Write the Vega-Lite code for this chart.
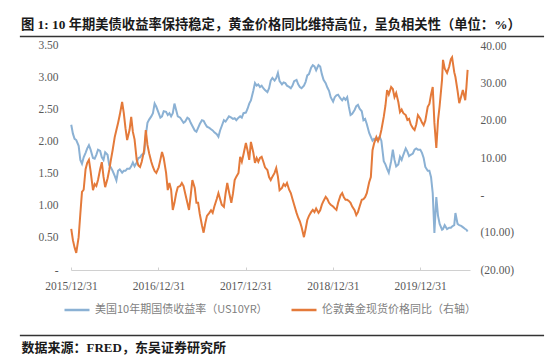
{
  "$schema": "https://vega.github.io/schema/vega-lite/v6.json",
  "width": 399,
  "height": 233.5,
  "autosize": {"type": "none"},
  "padding": {"left": 71, "top": 36.5, "right": 83, "bottom": 88},
  "background": "white",
  "config": {"view": {"stroke": null}},
  "title": {
    "text": "图 1: 10 年期美债收益率保持稳定，黄金价格同比维持高位，呈负相关性（单位：%）",
    "anchor": "start",
    "frame": "group",
    "dx": -50,
    "offset": 4,
    "font": "Liberation Serif, Noto Sans CJK SC",
    "fontSize": 13.3,
    "fontWeight": "bold",
    "color": "#1a1a1a"
  },
  "data": {"values": [
    {"date":"2016-01-01","us":2.27,"gold":-9.0},
    {"date":"2016-01-08","us":2.13,"gold":-12.0},
    {"date":"2016-01-15","us":2.05,"gold":-14.0},
    {"date":"2016-01-22","us":2.03,"gold":-15.4},
    {"date":"2016-02-01","us":1.94,"gold":-11.2},
    {"date":"2016-02-08","us":1.72,"gold":-5.0},
    {"date":"2016-02-15","us":1.66,"gold":0.9},
    {"date":"2016-02-22","us":1.76,"gold":1.5},
    {"date":"2016-03-01","us":1.83,"gold":7.0},
    {"date":"2016-03-08","us":1.90,"gold":8.7},
    {"date":"2016-03-15","us":1.95,"gold":9.5},
    {"date":"2016-03-22","us":1.88,"gold":6.5},
    {"date":"2016-04-01","us":1.75,"gold":1.4},
    {"date":"2016-04-08","us":1.74,"gold":3.0},
    {"date":"2016-04-15","us":1.80,"gold":2.5},
    {"date":"2016-04-22","us":1.88,"gold":4.1},
    {"date":"2016-05-01","us":1.86,"gold":7.0},
    {"date":"2016-05-08","us":1.76,"gold":8.9},
    {"date":"2016-05-15","us":1.72,"gold":5.0},
    {"date":"2016-05-22","us":1.84,"gold":2.2},
    {"date":"2016-06-01","us":1.80,"gold":4.5},
    {"date":"2016-06-08","us":1.64,"gold":6.8},
    {"date":"2016-06-15","us":1.60,"gold":9.5},
    {"date":"2016-06-22","us":1.55,"gold":12.0},
    {"date":"2016-07-01","us":1.47,"gold":15.6},
    {"date":"2016-07-08","us":1.40,"gold":17.5},
    {"date":"2016-07-15","us":1.55,"gold":19.4},
    {"date":"2016-07-22","us":1.57,"gold":21.5},
    {"date":"2016-08-01","us":1.52,"gold":25.0},
    {"date":"2016-08-08","us":1.55,"gold":22.0},
    {"date":"2016-08-15","us":1.55,"gold":18.0},
    {"date":"2016-08-22","us":1.58,"gold":14.8},
    {"date":"2016-09-01","us":1.58,"gold":17.5},
    {"date":"2016-09-08","us":1.62,"gold":21.0},
    {"date":"2016-09-15","us":1.68,"gold":17.0},
    {"date":"2016-09-22","us":1.62,"gold":15.0},
    {"date":"2016-10-01","us":1.68,"gold":9.5},
    {"date":"2016-10-08","us":1.75,"gold":8.0},
    {"date":"2016-10-15","us":1.76,"gold":7.6},
    {"date":"2016-10-22","us":1.80,"gold":9.0},
    {"date":"2016-11-01","us":1.82,"gold":12.0},
    {"date":"2016-11-08","us":2.10,"gold":17.5},
    {"date":"2016-11-15","us":2.30,"gold":13.5},
    {"date":"2016-11-22","us":2.35,"gold":11.3},
    {"date":"2016-12-01","us":2.40,"gold":9.0},
    {"date":"2016-12-08","us":2.45,"gold":7.6},
    {"date":"2016-12-15","us":2.60,"gold":6.5},
    {"date":"2016-12-22","us":2.55,"gold":6.0},
    {"date":"2017-01-01","us":2.45,"gold":7.5},
    {"date":"2017-01-08","us":2.38,"gold":9.5},
    {"date":"2017-01-15","us":2.40,"gold":11.6},
    {"date":"2017-01-22","us":2.48,"gold":10.0},
    {"date":"2017-02-01","us":2.47,"gold":6.0},
    {"date":"2017-02-08","us":2.42,"gold":1.4},
    {"date":"2017-02-15","us":2.45,"gold":3.3},
    {"date":"2017-02-22","us":2.40,"gold":1.5},
    {"date":"2017-03-01","us":2.45,"gold":-3.9},
    {"date":"2017-03-08","us":2.60,"gold":-2.0},
    {"date":"2017-03-15","us":2.50,"gold":0.5},
    {"date":"2017-03-22","us":2.40,"gold":2.2},
    {"date":"2017-04-01","us":2.38,"gold":2.5},
    {"date":"2017-04-08","us":2.34,"gold":3.3},
    {"date":"2017-04-15","us":2.30,"gold":2.5},
    {"date":"2017-04-22","us":2.32,"gold":0.5},
    {"date":"2017-05-01","us":2.38,"gold":-2.0},
    {"date":"2017-05-08","us":2.36,"gold":-3.9},
    {"date":"2017-05-15","us":2.30,"gold":0.0},
    {"date":"2017-05-22","us":2.25,"gold":4.1},
    {"date":"2017-06-01","us":2.18,"gold":2.0},
    {"date":"2017-06-08","us":2.16,"gold":-2.0},
    {"date":"2017-06-15","us":2.22,"gold":-2.0},
    {"date":"2017-06-22","us":2.28,"gold":-5.0},
    {"date":"2017-07-01","us":2.34,"gold":-8.0},
    {"date":"2017-07-08","us":2.33,"gold":-10.0},
    {"date":"2017-07-15","us":2.28,"gold":-7.5},
    {"date":"2017-07-22","us":2.24,"gold":-5.5},
    {"date":"2017-08-01","us":2.22,"gold":-4.7},
    {"date":"2017-08-08","us":2.20,"gold":-4.0},
    {"date":"2017-08-15","us":2.18,"gold":-4.7},
    {"date":"2017-08-22","us":2.15,"gold":-3.0},
    {"date":"2017-09-01","us":2.12,"gold":-1.0},
    {"date":"2017-09-08","us":2.08,"gold":0.6},
    {"date":"2017-09-15","us":2.18,"gold":-1.0},
    {"date":"2017-09-22","us":2.25,"gold":-2.5},
    {"date":"2017-10-01","us":2.34,"gold":-3.1},
    {"date":"2017-10-08","us":2.32,"gold":0.5},
    {"date":"2017-10-15","us":2.36,"gold":3.3},
    {"date":"2017-10-22","us":2.40,"gold":1.0},
    {"date":"2017-11-01","us":2.38,"gold":-2.0},
    {"date":"2017-11-08","us":2.36,"gold":0.5},
    {"date":"2017-11-15","us":2.37,"gold":4.1},
    {"date":"2017-11-22","us":2.34,"gold":5.0},
    {"date":"2017-12-01","us":2.38,"gold":6.0},
    {"date":"2017-12-08","us":2.40,"gold":10.3},
    {"date":"2017-12-15","us":2.38,"gold":9.0},
    {"date":"2017-12-22","us":2.45,"gold":11.0},
    {"date":"2018-01-01","us":2.46,"gold":14.0},
    {"date":"2018-01-08","us":2.52,"gold":12.0},
    {"date":"2018-01-15","us":2.60,"gold":9.5},
    {"date":"2018-01-22","us":2.65,"gold":14.3},
    {"date":"2018-02-01","us":2.80,"gold":11.5},
    {"date":"2018-02-08","us":2.92,"gold":8.7},
    {"date":"2018-02-15","us":2.88,"gold":10.0},
    {"date":"2018-02-22","us":2.90,"gold":9.0},
    {"date":"2018-03-01","us":2.86,"gold":10.0},
    {"date":"2018-03-08","us":2.88,"gold":10.3},
    {"date":"2018-03-15","us":2.84,"gold":9.0},
    {"date":"2018-03-22","us":2.81,"gold":7.5},
    {"date":"2018-04-01","us":2.78,"gold":6.8},
    {"date":"2018-04-08","us":2.84,"gold":4.9},
    {"date":"2018-04-15","us":2.96,"gold":4.1},
    {"date":"2018-04-22","us":3.00,"gold":5.0},
    {"date":"2018-05-01","us":2.96,"gold":6.0},
    {"date":"2018-05-08","us":3.00,"gold":7.3},
    {"date":"2018-05-15","us":3.08,"gold":5.0},
    {"date":"2018-05-22","us":2.95,"gold":1.4},
    {"date":"2018-06-01","us":2.90,"gold":2.0},
    {"date":"2018-06-08","us":2.93,"gold":3.0},
    {"date":"2018-06-15","us":2.92,"gold":2.5},
    {"date":"2018-06-22","us":2.88,"gold":3.3},
    {"date":"2018-07-01","us":2.86,"gold":1.5},
    {"date":"2018-07-08","us":2.84,"gold":0.6},
    {"date":"2018-07-15","us":2.88,"gold":-1.0},
    {"date":"2018-07-22","us":2.95,"gold":-2.5},
    {"date":"2018-08-01","us":2.97,"gold":-4.7},
    {"date":"2018-08-08","us":2.90,"gold":-6.0},
    {"date":"2018-08-15","us":2.86,"gold":-7.0},
    {"date":"2018-08-22","us":2.84,"gold":-8.5},
    {"date":"2018-09-01","us":2.88,"gold":-11.2},
    {"date":"2018-09-08","us":2.94,"gold":-9.0},
    {"date":"2018-09-15","us":3.04,"gold":-6.6},
    {"date":"2018-09-22","us":3.06,"gold":-5.5},
    {"date":"2018-10-01","us":3.16,"gold":-4.5},
    {"date":"2018-10-08","us":3.20,"gold":-3.9},
    {"date":"2018-10-15","us":3.18,"gold":-4.5},
    {"date":"2018-10-22","us":3.12,"gold":-3.5},
    {"date":"2018-11-01","us":3.20,"gold":-4.7},
    {"date":"2018-11-08","us":3.18,"gold":-4.0},
    {"date":"2018-11-15","us":3.06,"gold":-2.5},
    {"date":"2018-11-22","us":2.97,"gold":-1.5},
    {"date":"2018-12-01","us":2.92,"gold":-0.4},
    {"date":"2018-12-08","us":2.85,"gold":-1.0},
    {"date":"2018-12-15","us":2.80,"gold":-2.0},
    {"date":"2018-12-22","us":2.70,"gold":-2.5},
    {"date":"2019-01-01","us":2.63,"gold":-3.0},
    {"date":"2019-01-08","us":2.70,"gold":-3.5},
    {"date":"2019-01-15","us":2.73,"gold":-3.9},
    {"date":"2019-01-22","us":2.74,"gold":-2.0},
    {"date":"2019-02-01","us":2.68,"gold":0.0},
    {"date":"2019-02-08","us":2.65,"gold":0.6},
    {"date":"2019-02-15","us":2.69,"gold":-0.5},
    {"date":"2019-02-22","us":2.66,"gold":-1.2},
    {"date":"2019-03-01","us":2.70,"gold":-1.2},
    {"date":"2019-03-08","us":2.55,"gold":-1.5},
    {"date":"2019-03-15","us":2.42,"gold":-2.0},
    {"date":"2019-03-22","us":2.44,"gold":-3.0},
    {"date":"2019-04-01","us":2.50,"gold":-4.0},
    {"date":"2019-04-08","us":2.56,"gold":-5.3},
    {"date":"2019-04-15","us":2.58,"gold":-4.5},
    {"date":"2019-04-22","us":2.52,"gold":-3.0},
    {"date":"2019-05-01","us":2.48,"gold":-1.2},
    {"date":"2019-05-08","us":2.34,"gold":-1.0},
    {"date":"2019-05-15","us":2.36,"gold":-0.5},
    {"date":"2019-05-22","us":2.28,"gold":0.6},
    {"date":"2019-06-01","us":2.14,"gold":3.5},
    {"date":"2019-06-08","us":2.08,"gold":4.9},
    {"date":"2019-06-15","us":2.02,"gold":12.1},
    {"date":"2019-06-22","us":2.05,"gold":14.0},
    {"date":"2019-07-01","us":2.03,"gold":15.6},
    {"date":"2019-07-08","us":2.06,"gold":14.5},
    {"date":"2019-07-15","us":2.08,"gold":15.6},
    {"date":"2019-07-22","us":2.02,"gold":17.5},
    {"date":"2019-08-01","us":1.70,"gold":21.0},
    {"date":"2019-08-08","us":1.65,"gold":24.0},
    {"date":"2019-08-15","us":1.58,"gold":28.2},
    {"date":"2019-08-22","us":1.52,"gold":27.0},
    {"date":"2019-09-01","us":1.70,"gold":29.0},
    {"date":"2019-09-08","us":1.88,"gold":28.5},
    {"date":"2019-09-15","us":1.72,"gold":26.3},
    {"date":"2019-09-22","us":1.62,"gold":27.4},
    {"date":"2019-10-01","us":1.65,"gold":25.0},
    {"date":"2019-10-08","us":1.77,"gold":22.3},
    {"date":"2019-10-15","us":1.72,"gold":23.0},
    {"date":"2019-10-22","us":1.80,"gold":22.0},
    {"date":"2019-11-01","us":1.90,"gold":21.5},
    {"date":"2019-11-08","us":1.85,"gold":20.2},
    {"date":"2019-11-15","us":1.78,"gold":20.5},
    {"date":"2019-11-22","us":1.80,"gold":19.0},
    {"date":"2019-12-01","us":1.82,"gold":18.0},
    {"date":"2019-12-08","us":1.88,"gold":17.5},
    {"date":"2019-12-15","us":1.90,"gold":19.0},
    {"date":"2019-12-22","us":1.88,"gold":21.5},
    {"date":"2020-01-01","us":1.88,"gold":20.5},
    {"date":"2020-01-08","us":1.83,"gold":19.5},
    {"date":"2020-01-15","us":1.75,"gold":18.8},
    {"date":"2020-01-22","us":1.61,"gold":20.0},
    {"date":"2020-02-01","us":1.55,"gold":23.7},
    {"date":"2020-02-08","us":1.55,"gold":24.5},
    {"date":"2020-02-15","us":1.45,"gold":27.0},
    {"date":"2020-02-22","us":1.20,"gold":29.0},
    {"date":"2020-02-29","us":0.58,"gold":19.4},
    {"date":"2020-03-08","us":1.14,"gold":12.7},
    {"date":"2020-03-15","us":0.85,"gold":20.0},
    {"date":"2020-03-22","us":0.72,"gold":24.0},
    {"date":"2020-04-01","us":0.63,"gold":31.0},
    {"date":"2020-04-05","us":0.64,"gold":36.3},
    {"date":"2020-04-12","us":0.70,"gold":34.0},
    {"date":"2020-04-22","us":0.64,"gold":32.8},
    {"date":"2020-05-01","us":0.66,"gold":34.5},
    {"date":"2020-05-08","us":0.66,"gold":36.5},
    {"date":"2020-05-13","us":0.68,"gold":37.0},
    {"date":"2020-05-22","us":0.70,"gold":33.0},
    {"date":"2020-05-27","us":0.89,"gold":31.7},
    {"date":"2020-06-05","us":0.72,"gold":28.0},
    {"date":"2020-06-12","us":0.70,"gold":24.7},
    {"date":"2020-06-20","us":0.69,"gold":26.5},
    {"date":"2020-06-27","us":0.67,"gold":28.2},
    {"date":"2020-07-07","us":0.64,"gold":25.5},
    {"date":"2020-07-12","us":0.63,"gold":29.0},
    {"date":"2020-07-17","us":0.60,"gold":33.6}
  ]},
  "layer": [
    {
      "layer": [
        {
          "mark": {"type": "line", "strokeWidth": 2, "color": "#8BB1D4"},
          "encoding": {
            "x": {
              "field": "date", "type": "temporal",
              "scale": {"type": "utc", "domain": [{"year": 2015, "month": 12, "date": 31, "utc": true}, {"year": 2020, "month": 7, "date": 27, "utc": true}], "nice": false},
              "axis": {
                "values": [
                  {"year": 2015, "month": 12, "date": 31, "utc": true},
                  {"year": 2016, "month": 12, "date": 31, "utc": true},
                  {"year": 2017, "month": 12, "date": 31, "utc": true},
                  {"year": 2018, "month": 12, "date": 31, "utc": true},
                  {"year": 2019, "month": 12, "date": 31, "utc": true}
                ],
                "labelExpr": "utcFormat(datum.value, '%Y/%m/%d')",
                "labelFont": "Liberation Serif", "labelFontSize": 11.5, "labelColor": "#595959",
                "labelFlush": false, "labelOverlap": false, "labelPadding": 13,
                "domainColor": "#d0d0d0", "tickColor": "#d0d0d0", "tickSize": -3, "grid": false,
                "title": "数据来源：FRED，东吴证券研究所",
                "titleX": -50, "titleY": 77, "titleAlign": "left", "titleAnchor": "start", "titleBaseline": "middle",
                "titleFont": "Liberation Serif, Noto Sans CJK SC", "titleFontSize": 13, "titleFontWeight": "bold", "titleColor": "#1a1a1a"
              }
            },
            "y": {
              "field": "us", "type": "quantitative",
              "scale": {"domain": [0, 3.648], "nice": false, "zero": false},
              "axis": {
                "orient": "left", "values": [0, 0.5, 1, 1.5, 2, 2.5, 3, 3.5],
                "labelExpr": "datum.value == 0 ? '-\u00a0\u00a0' : format(datum.value, '.2f')",
                "labelFont": "Liberation Serif", "labelFontSize": 11.5, "labelColor": "#595959",
                "labelOverlap": false, "labelFlush": false,
                "labelPadding": 13, "domain": false, "ticks": false, "grid": false, "title": null
              }
            },
            "color": {
              "datum": "美国10年期国债收益率（US10YR）",
              "scale": {"domain": ["美国10年期国债收益率（US10YR）", "伦敦黄金现货价格同比（右轴）"], "range": ["#8BB1D4", "#E47A3A"]},
              "legend": {
                "title": null, "orient": "none", "direction": "horizontal", "legendX": -8, "legendY": 259.5,
                "symbolType": "stroke", "symbolStrokeWidth": 2.5, "symbolSize": 625,
                "labelFont": "Noto Sans CJK SC", "labelFontSize": 11, "labelColor": "#7f7f7f",
                "labelLimit": 400, "labelOffset": 4, "columnPadding": 18, "padding": 0
              }
            }
          }
        },
        {
          "data": {"values": [{"k": "bottom"}]},
          "mark": {"type": "rule", "clip": false, "color": "#333333", "strokeWidth": 1.5},
          "encoding": {
            "x": {"datum": {"year": 2015, "month": 5, "date": 31, "utc": true}, "type": "temporal"},
            "x2": {"datum": {"year": 2021, "month": 6, "date": 2, "utc": true}},
            "y": {
              "datum": -1.023, "type": "quantitative",
              "axis": {
                "orient": "left", "values": [0, 0.5, 1, 1.5, 2, 2.5, 3, 3.5],
                "labelExpr": "datum.value == 0 ? '-\u00a0\u00a0' : format(datum.value, '.2f')",
                "labelFont": "Liberation Serif", "labelFontSize": 11.5, "labelColor": "#595959",
                "labelOverlap": false, "labelFlush": false,
                "labelPadding": 13, "domain": false, "ticks": false, "grid": false, "title": null
              }
            }
          }
        },
        {
          "data": {"values": [{"k": "top"}]},
          "mark": {"type": "rule", "clip": false, "color": "#333333", "strokeWidth": 1.5},
          "encoding": {
            "x": {"datum": {"year": 2015, "month": 5, "date": 31, "utc": true}, "type": "temporal"},
            "x2": {"datum": {"year": 2021, "month": 6, "date": 2, "utc": true}},
            "y": {
              "datum": 3.648, "type": "quantitative",
              "axis": {
                "orient": "left", "values": [0, 0.5, 1, 1.5, 2, 2.5, 3, 3.5],
                "labelExpr": "datum.value == 0 ? '-\u00a0\u00a0' : format(datum.value, '.2f')",
                "labelFont": "Liberation Serif", "labelFontSize": 11.5, "labelColor": "#595959",
                "labelOverlap": false, "labelFlush": false,
                "labelPadding": 13, "domain": false, "ticks": false, "grid": false, "title": null
              }
            }
          }
        }
      ]
    },
    {
      "mark": {"type": "line", "strokeWidth": 2, "color": "#E47A3A"},
      "encoding": {
        "x": {"field": "date", "type": "temporal"},
        "y": {
          "field": "gold", "type": "quantitative",
          "scale": {"domain": [-20, 42.55], "nice": false, "zero": false},
          "axis": {
            "orient": "right", "values": [-20, -10, 0, 10, 20, 30, 40],
            "labelExpr": "datum.value < 0 ? '(' + format(-datum.value, '.2f') + ')' : (datum.value == 0 ? '-' : format(datum.value, '.2f'))",
            "labelFont": "Liberation Serif", "labelFontSize": 11.5, "labelColor": "#595959",
            "labelOverlap": false, "labelFlush": false,
            "labelPadding": 10, "domain": false, "ticks": false, "grid": false, "title": null
          }
        },
        "color": {"datum": "伦敦黄金现货价格同比（右轴）"}
      }
    }
  ],
  "resolve": {"scale": {"y": "independent"}}
}
